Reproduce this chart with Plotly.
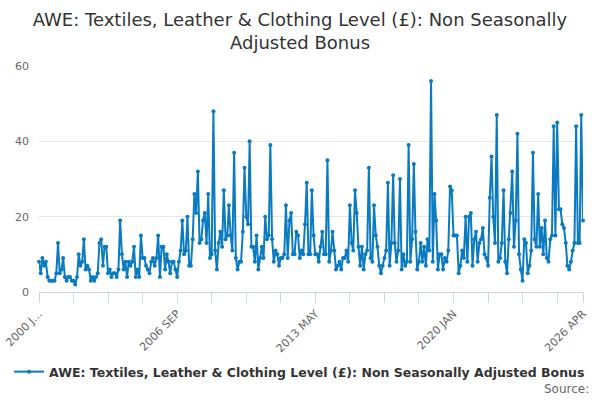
import plotly.graph_objects as go
import pandas as pd

# monthly bonus level, Jan 2000 - Apr 2026
bonus = [
    8, 5, 9, 7, 8, 4, 3, 3, 3, 3, 5, 13,        # 2000
    5, 6, 9, 4, 3, 4, 4, 3, 3, 2, 4, 10,        # 2001
    7, 8, 14, 6, 7, 6, 3, 4, 3, 4, 5, 13,       # 2002
    14, 7, 12, 12, 5, 6, 4, 5, 5, 4, 6, 19,     # 2003
    10, 6, 8, 4, 8, 7, 8, 12, 4, 6, 4, 15,      # 2004
    9, 9, 7, 6, 5, 8, 9, 7, 9, 15, 4, 12,       # 2005
    12, 6, 10, 8, 5, 8, 8, 6, 4, 8, 11, 19,     # 2006
    10, 11, 20, 7, 7, 14, 26, 21, 32, 13, 14, 19,   # 2007
    21, 13, 26, 9, 10, 48, 11, 6, 13, 16, 12, 27,   # 2008
    14, 15, 23, 15, 11, 37, 9, 6, 8, 8, 16, 33,     # 2009
    20, 18, 40, 12, 12, 8, 15, 6, 9, 12, 9, 20,     # 2010
    14, 15, 39, 14, 8, 11, 10, 7, 9, 9, 10, 23,     # 2011
    9, 19, 21, 10, 10, 16, 15, 9, 11, 10, 18, 29,   # 2012
    10, 10, 27, 15, 10, 10, 8, 12, 16, 10, 10, 35,  # 2013
    8, 11, 16, 11, 6, 7, 8, 6, 9, 9, 11, 8,         # 2014
    23, 13, 11, 27, 21, 12, 7, 12, 6, 10, 11, 33,   # 2015
    9, 8, 23, 15, 12, 7, 5, 7, 9, 11, 29, 7,        # 2016
    13, 31, 13, 8, 11, 30, 6, 10, 7, 8, 39, 8,      # 2017
    14, 34, 16, 6, 8, 13, 8, 12, 7, 14, 11, 56,     # 2018
    8, 26, 19, 6, 10, 10, 6, 9, 8, 11, 28, 27,      # 2019
    15, 15, 15, 5, 7, 11, 9, 20, 8, 20, 21, 7,      # 2020
    14, 16, 8, 13, 14, 17, 10, 9, 7, 25, 36, 20,    # 2021
    13, 47, 8, 9, 13, 27, 8, 5, 14, 21, 32, 12,     # 2022
    19, 42, 10, 6, 3, 14, 13, 5, 7, 11, 37, 14,     # 2023
    12, 26, 12, 17, 10, 19, 9, 8, 14, 15, 44, 15,   # 2024
    45, 22, 22, 18, 17, 13, 7, 6, 8, 11, 13, 44,    # 2025
    13, 13, 47, 19,                                 # 2026
]
months = pd.date_range("2000-01-01", periods=len(bonus), freq="MS")

series_name = "AWE: Textiles, Leather & Clothing Level (£): Non Seasonally Adjusted Bonus"
title_text = "AWE: Textiles, Leather & Clothing Level (£): Non Seasonally<br>Adjusted Bonus"

# ticks every 20 months, labels every 80, plus the last month
tick_idx = list(range(0, len(bonus), 20)) + [len(bonus) - 1]
label_idx = [0, 80, 160, 240, len(bonus) - 1]
tick_labels = ["2000 J…", "2006 SEP", "2013 MAY", "2020 JAN", "2026 APR"]
tick_text = []
for i in tick_idx:
    tick_text.append(tick_labels[label_idx.index(i)] if i in label_idx else "")

line_color = "#0b7bc1"

fig = go.Figure()
fig.add_trace(go.Scatter(
    x=months, y=bonus, name=series_name,
    mode="lines+markers",
    line=dict(color=line_color, width=2),
    marker=dict(color=line_color, size=4),
    cliponaxis=False,
))

fig.update_layout(
    width=600, height=400,
    margin=dict(l=39, r=17, t=66, b=108),
    paper_bgcolor="white", plot_bgcolor="white",
    font=dict(family="DejaVu Sans", color="#666666"),
    title=dict(text=title_text, x=0.5, xanchor="center", y=0.935, yanchor="top",
               font=dict(size=18, color="#333333")),
    showlegend=True,
    legend=dict(orientation="h", x=0.479, xanchor="center", yref="container",
                y=0.07, yanchor="middle", itemwidth=30,
                font=dict(size=12.5, color="#333333", weight="bold")),
    xaxis=dict(
        range=[months[0], months[-1]],
        tickmode="array",
        tickvals=[months[i] for i in tick_idx],
        ticktext=tick_text,
        tickangle=-45,
        ticks="outside", ticklen=10, tickcolor="#ccd6eb",
        showline=True, linecolor="#ccd6eb",
        showgrid=False, automargin=False,
        tickfont=dict(size=11, color="#666666"),
    ),
    yaxis=dict(
        range=[0, 60], dtick=20,
        gridcolor="#e6e6e6", zeroline=False, automargin=False,
        ticklabelstandoff=9,
        tickfont=dict(size=11, color="#666666"),
    ),
    annotations=[dict(text="Source:", xref="paper", yref="paper", x=1.015, y=-0.43,
                      xanchor="right", yanchor="middle", showarrow=False,
                      font=dict(size=12, color="#666666"))],
)

# drop the default page margin so the figure sits at the window corner
fig.write_html("out.html", config={"displayModeBar": False},
               post_script="document.body.style.margin='0';")
